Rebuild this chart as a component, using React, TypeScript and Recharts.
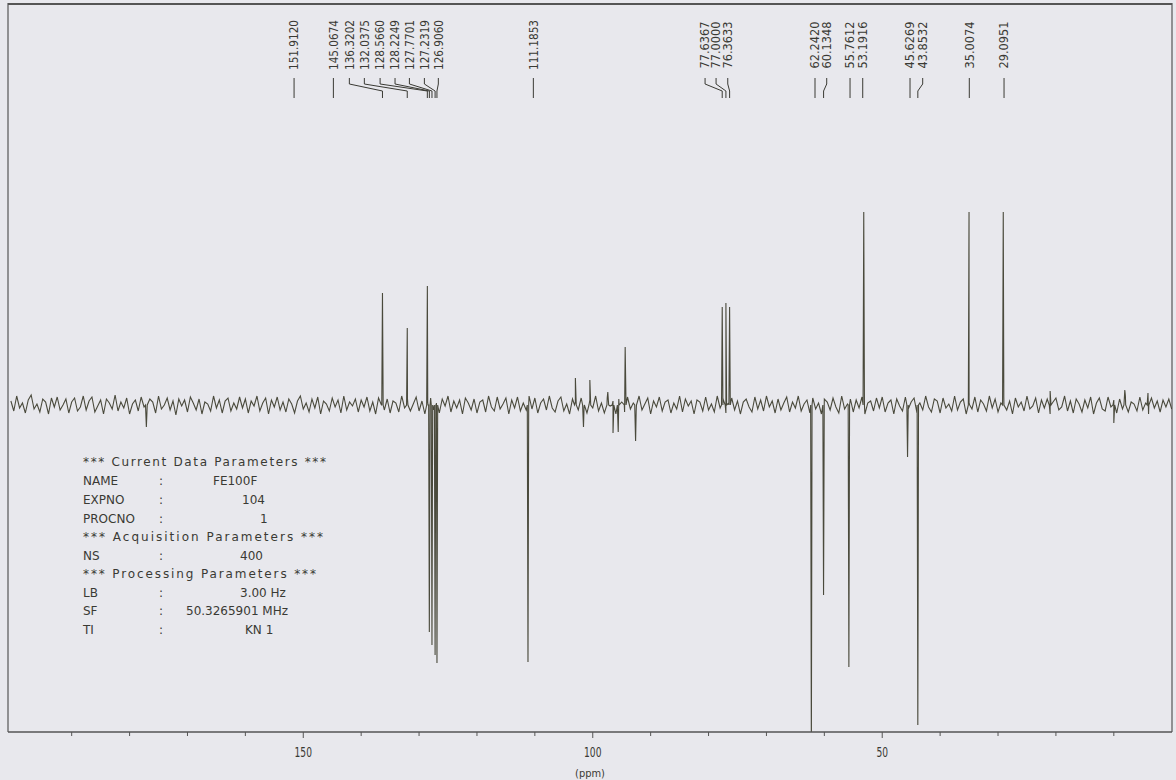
import React from 'react';
import { ComposedChart, Line, Scatter, XAxis, YAxis, ReferenceLine } from 'recharts';

// ---- spectrum peaks (ppm, intensity; + up / - down) ----
const peakPpm = [136.3202, 132.0375, 128.566, 128.2249, 127.7701, 127.2319, 126.906, 111.1853, 77.6367, 77.0, 76.3633, 62.242, 60.1348, 55.7612, 53.1916, 45.6269, 43.8532, 35.0074, 29.0951];
const peakHeight = [112, 77, 119, -227, -240, -250, -258, -257, 98, 102, 98, -345, -190, -262, 193, -52, -320, 193, 193];

// ---- small artefact spikes in the baseline ----
const spikePpm = [177.1, 103.0, 101.6, 100.5, 97.4, 96.5, 95.6, 94.4, 92.6, 21.0, 10.0, 8.1, 4.1];
const spikeHeight = [-22, 27, -22, 25, 13, -28, -27, 58, -36, 14, -18, 15, 12];

// ---- baseline noise, read every 0.5 ppm from 200.5 ppm down to 0 ppm ----
const noiseStartPpm = 200.5;
const noiseStepPpm = 0.5;
const noise = [
  4, -6, 9, -3, 2, -8, 5, 10, -4, 1, -7, 6, 3, -9, 7, -2, 8, -5, 0, 6,
  -8, 3, 7, -6, -2, 9, -5, 4, 8, -7, -1, 5, -9, 6, 2, -4, 10, -6, 3, -3,
  7, -9, 1, 5, -6, 8, -2, -7, 6, 3, -8, 9, -4, 0, 7, -5, 4, -10, 6, -1,
  5, -7, 8, 2, -5, 6, -9, 3, 1, -6, 9, -3, 5, -8, 4, 7, -6, 2, -4, 8,
  -3, 6, -8, 4, -1, 9, -6, 2, 7, -9, 5, -2, 8, -5, 3, -7, 6, 1, -8, 4,
  9, -4, 2, -7, 6, -3, 8, -9, 4, 1, -6, 7, -2, 5, -8, 9, -5, 3, -1, 6,
  -7, 5, -2, 8, -6, 3, -9, 7, 0, -5, 6, -8, 4, 2, -7, 9, -3, 6, -6, 1,
  8, -6, 4, -9, 3, 7, -5, 2, -8, 6, -1, 9, -7, 4, -3, 5, -9, 7, 2, -5,
  6, -8, 3, 5, -7, 9, -2, -6, 8, -4, 1, 7, -9, 5, -3, 8, -6, 2, -5, 9,
  -4, 7, -8, 2, 6, -5, 9, -3, -7, 4, 8, -6, 1, -9, 6, 3, -5, 7, -2, -8,
  5, -3, 9, -6, 2, -8, 7, -1, 4, -9, 6, 3, -7, 8, -4, 2, -6, 9, -5, 1,
  7, -9, 4, -2, 8, -6, 3, 5, -8, 2, -4, 9, -7, 6, -1, 4, -9, 5, 3, -6,
  8, -5, 1, -7, 9, -3, 6, -8, 2, 7, -5, 4, -9, 3, 6, -2, -7, 8, -4, 5,
  -6, 9, -2, 4, -8, 6, -5, 2, 8, -7, 3, -3, 9, -6, 1, 5, -8, 7, -4, 2,
  -9, 6, 3, -5, 7, -2, -8, 9, -4, 1, 6, -7, 5, -3, 8, -9, 2, 4, -6, 7,
  -3, 8, -7, 2, 5, -9, 6, -1, -6, 8, -4, 3, 7, -8, 2, -5, 9, -2, -7, 6,
  4, -8, 7, -3, 1, -6, 9, -5, 3, 6, -9, 2, -4, 8, -7, 5, 1, -6, 9, -3,
  6, -7, 2, 8, -5, 4, -9, 7, -2, 3, -6, 9, -4, -1, 7, -8, 5, -3, 6, -9,
  3, 7, -5, -2, 9, -6, 4, -8, 6, 1, -7, 5, -3, 8, -9, 2, 7, -4, -6, 8,
  -2, 5, -8, 6, -4, 9, -7, 3, 1, -6, 8, -5, 2, -9, 7, -3, 4, -7, 5, -2,
  6, -4,
];

// ---- peak labels at top ----
const labelTexts = ['151.9120', '145.0674', '136.3202', '132.0375', '128.5660', '128.2249', '127.7701', '127.2319', '126.9060', '111.1853', '77.6367', '77.0000', '76.3633', '62.2420', '60.1348', '55.7612', '53.1916', '45.6269', '43.8532', '35.0074', '29.0951'];
const labelPpm = [151.59, 144.8, 142.04, 139.45, 136.73, 134.15, 131.67, 129.08, 126.67, 110.26, 80.6, 78.7, 76.68, 61.61, 59.59, 55.56, 53.37, 45.2, 43.01, 34.96, 28.96];
const labelTargetPpm = [151.59, 144.8, 136.32, 132.04, 128.57, 128.22, 127.77, 127.23, 126.91, 110.26, 77.64, 77.0, 76.36, 61.61, 60.13, 55.56, 53.37, 45.2, 43.85, 34.96, 28.96];
const labelLevel = 360;
const connectorLevels = [327, 321, 314, 307];

// ---- axis ----
const axisTicks = [10, 20, 30, 40, 50, 60, 70, 80, 90, 100, 110, 120, 130, 140, 150, 160, 170, 180, 190];
const labeledTicks = [50, 100, 150];
const xDomain = [-0.05, 201.0];
const yDomain = [-327, 402];

const paramLines: { t: string; x: number; y: number; len?: number }[][] = [
  [{ t: '*** Current Data Parameters ***', x: 83, y: 466, len: 243 }],
  [{ t: 'NAME', x: 83, y: 485 }, { t: ':', x: 159, y: 485 }, { t: 'FE100F', x: 213, y: 485 }],
  [{ t: 'EXPNO', x: 83, y: 504 }, { t: ':', x: 159, y: 504 }, { t: '104', x: 242, y: 504 }],
  [{ t: 'PROCNO', x: 83, y: 523 }, { t: ':', x: 159, y: 523 }, { t: '1', x: 260, y: 523 }],
  [{ t: '*** Acquisition  Parameters ***', x: 83, y: 541, len: 240 }],
  [{ t: 'NS', x: 83, y: 560 }, { t: ':', x: 159, y: 560 }, { t: '400', x: 240, y: 560 }],
  [{ t: '*** Processing Parameters ***', x: 83, y: 578, len: 233 }],
  [{ t: 'LB', x: 83, y: 597 }, { t: ':', x: 159, y: 597 }, { t: '3.00 Hz', x: 240, y: 597 }],
  [{ t: 'SF', x: 83, y: 615 }, { t: ':', x: 159, y: 615 }, { t: '50.3265901 MHz', x: 186, y: 615 }],
  [{ t: 'TI', x: 83, y: 634 }, { t: ':', x: 159, y: 634 }, { t: 'KN 1', x: 245, y: 634 }],
];

// ---- build tables ----
const spectrum: { ppm: number; y: number }[] = [];
noise.forEach((v, i) => spectrum.push({ ppm: noiseStartPpm - i * noiseStepPpm, y: v }));
const addSpike = (p: number, h: number, w: number) => {
  spectrum.push({ ppm: p + w, y: 0 });
  spectrum.push({ ppm: p, y: h });
  spectrum.push({ ppm: p - w, y: 0 });
};
peakPpm.forEach((p, i) => addSpike(p, peakHeight[i], 0.12));
spikePpm.forEach((p, i) => addSpike(p, spikeHeight[i], 0.15));
spectrum.sort((a, b) => b.ppm - a.ppm);

const labelData = labelTexts.map((t, i) => ({ ppm: labelPpm[i], y: labelLevel, text: t }));

const connectorData: { ppm: number; y: number | null }[] = [];
labelTexts.forEach((_, i) => {
  connectorData.push({ ppm: labelPpm[i], y: connectorLevels[0] });
  connectorData.push({ ppm: labelPpm[i], y: connectorLevels[1] });
  connectorData.push({ ppm: labelTargetPpm[i], y: connectorLevels[2] });
  connectorData.push({ ppm: labelTargetPpm[i], y: connectorLevels[3] });
  connectorData.push({ ppm: labelTargetPpm[i], y: null });
});

const INK = '#4a4a3c';
const TEXT = '#3a3a34';
const NARROW = '"Liberation Sans Narrow", "DejaVu Sans Condensed", "Arial Narrow", sans-serif';

const LabelShape = (props: any) => {
  const { cx, cy, payload } = props;
  if (cx == null || cy == null) return null;
  const len = payload.text.length > 7 ? 50 : 47;
  return (
    <text
      x={cx}
      y={cy}
      transform={`rotate(-90 ${cx} ${cy})`}
      textAnchor="middle"
      dy="0.36em"
      fontFamily={NARROW}
      fontSize={12}
      textLength={len}
      lengthAdjust="spacingAndGlyphs"
      fill={TEXT}
    >
      {payload.text}
    </text>
  );
};

const AxisTick = (props: any) => {
  const { x, y, payload } = props;
  const v = payload.value;
  const major = labeledTicks.includes(v);
  const s = String(v);
  return (
    <g>
      <line x1={x} y1={y} x2={x} y2={y + (major ? 6 : 4)} stroke="#555" strokeWidth={1} />
      {major && (
        <text
          x={x}
          y={y + 25}
          textAnchor="middle"
          fontFamily={NARROW}
          fontSize={14}
          textLength={s.length * 5.8}
          lengthAdjust="spacingAndGlyphs"
          fill={TEXT}
        >
          {s}
        </text>
      )}
    </g>
  );
};

export default function App() {
  return (
    <div style={{ position: 'absolute', left: 0, top: 0, width: 1176, height: 780, background: '#e8e8ed', overflow: 'hidden' }}>
      <ComposedChart width={1176} height={780} data={spectrum} margin={{ top: 3, right: 4, bottom: 0, left: 8 }}>
        <XAxis
          dataKey="ppm"
          type="number"
          domain={xDomain}
          reversed
          allowDataOverflow
          ticks={axisTicks}
          interval={0}
          height={48}
          tickSize={0}
          tickMargin={0}
          tickLine={false}
          tick={<AxisTick />}
          axisLine={{ stroke: '#555', strokeWidth: 1.6 }}
          label={{ value: '(ppm)', position: 'insideBottom', offset: 3, fontSize: 11, fill: TEXT, fontFamily: NARROW }}
        />
        <YAxis type="number" domain={yDomain} allowDataOverflow hide />
        <ReferenceLine y={yDomain[1] - 1} stroke="#555" strokeWidth={2} />
        <ReferenceLine x={xDomain[1]} stroke="#555" strokeWidth={1.2} />
        <ReferenceLine x={xDomain[0]} stroke="#555" strokeWidth={1.2} />
        <Line
          data={spectrum}
          dataKey="y"
          type="linear"
          stroke={INK}
          strokeWidth={1.1}
          dot={false}
          isAnimationActive={false}
        />
        <Line
          data={connectorData}
          dataKey="y"
          type="linear"
          stroke={TEXT}
          strokeWidth={1}
          dot={false}
          connectNulls={false}
          isAnimationActive={false}
        />
        <Scatter data={labelData} dataKey="y" shape={<LabelShape />} isAnimationActive={false} />
      </ComposedChart>
      <svg width={1176} height={780} style={{ position: 'absolute', left: 0, top: 0, pointerEvents: 'none' }}>
        {paramLines.flat().map((p, i) => (
          <text
            key={i}
            x={p.x}
            y={p.y}
            fontFamily='"DejaVu Sans", sans-serif'
            fontSize={12}
            fill={TEXT}
            {...(p.len ? { textLength: p.len, lengthAdjust: 'spacing' } : {})}
          >
            {p.t}
          </text>
        ))}
      </svg>
    </div>
  );
}
